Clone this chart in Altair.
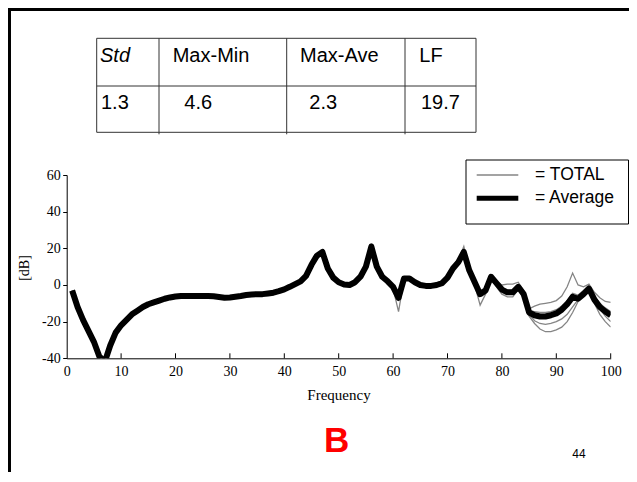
import altair as alt
import pandas as pd

# ---------------- data ----------------
freq = list(range(1, 101))

average = [
    -3, -12, -19, -25, -31, -39, -42, -33, -26, -22,
    -19, -16, -14, -12, -10.5, -9.5, -8.5, -7.5, -6.8, -6.3,
    -6, -6, -6, -6, -6, -6, -6.2, -6.6, -7, -6.8,
    -6.4, -6, -5.5, -5.2, -5, -5, -4.6, -4.2, -3.4, -2.4,
    -1, 0.5, 2, 5, 11, 16, 18, 9, 4, 1.5,
    0.3, 0, 1.5, 4.5, 10, 21, 10, 4.5, 2, -1,
    -7, 3.5, 3.5, 1.5, 0, -0.5, -0.5, 0, 1, 4,
    9, 12.5, 18, 8, 1.5, -5, -3, 4.5, 1, -2.5,
    -4, -4, -1, -5, -15, -16.5, -17.2, -17.2, -16.5, -15.5,
    -13.5, -10.5, -6.5, -7.5, -5, -2, -8, -12, -14.5, -16.5,
]

total_1 = [
    -3, -12, -19, -25, -31, -39, -42, -33, -26, -22,
    -19, -16, -14, -12, -10.5, -9.5, -8.5, -7.5, -6.8, -6.3,
    -6, -6, -6, -6, -6, -6, -6.2, -6.6, -7, -6.8,
    -6.4, -6, -5.5, -5.2, -5, -5, -4.6, -4.2, -3.4, -2.4,
    -0.5, 1, 2.5, 5.5, 11.5, 16.5, 19, 9.5, 4.5, 2,
    0.8, 0.5, 2, 5, 10.5, 22.5, 10.5, 5, 2.5, -0.5,
    -6, 4, 4, 2, 0.5, 0, 0, 0.5, 1.5, 4.5,
    9.5, 13.5, 21, 9, 2.5, -3, -1.5, 5.5, 2, 0,
    0.5, 0.5, 1.5, -3, -13, -11.5, -10.5, -10, -9.5, -8.5,
    -6, -1, 6.5, 0, -1, 0.5, -4, -7, -9, -9.5,
]

total_2 = [
    -3, -12, -19, -25, -31, -39, -42, -33, -26, -22,
    -19, -16, -14, -12, -10.5, -9.5, -8.5, -7.5, -6.8, -6.3,
    -6, -6, -6, -6, -6, -6, -6.2, -6.6, -7, -6.8,
    -6.4, -6, -5.5, -5.2, -5, -5, -4.6, -4.2, -3.4, -2.4,
    -1.5, 0, 1.5, 4.5, 10.5, 15.5, 17, 8.5, 3.5, 1,
    0, -0.5, 1, 4, 9.5, 20, 9.5, 4, 1.5, -2,
    -14.5, 3, 3, 1, -0.5, -1, -1, -0.5, 0.5, 3.5,
    8.5, 12, 17, 7, 0, -11, -5, 3.5, -1, -5,
    -6.5, -6.5, -2.5, -7, -17, -21, -24, -25.5, -25.5, -24.5,
    -23, -20, -15, -9, -4, -2.5, -10, -16, -20, -23,
]

total_3 = [
    -3, -12, -19, -25, -31, -39, -42, -33, -26, -22,
    -19, -16, -14, -12, -10.5, -9.5, -8.5, -7.5, -6.8, -6.3,
    -6, -6, -6, -6, -6, -6, -6.2, -6.6, -7, -6.8,
    -6.4, -6, -5.5, -5.2, -5, -5, -4.6, -4.2, -3.4, -2.4,
    -1, 0.5, 2, 5, 11, 16, 18, 9, 4, 1.5,
    0.3, 0, 1.5, 4.5, 10, 21, 10, 4.5, 2, -1,
    -8, 3.5, 3.5, 1.5, 0, -0.5, -0.5, 0, 1, 4,
    9, 12.5, 18.5, 8, 1.5, -6, -3.5, 4, 0.5, -3.5,
    -5, -5, -1.5, -6, -16, -19.5, -21, -21.5, -21, -20,
    -18.5, -16, -12, -8, -4.5, -1, -8, -13, -17, -20,
]

total_4 = [
    -3, -12, -19, -25, -31, -39, -42, -33, -26, -22,
    -19, -16, -14, -12, -10.5, -9.5, -8.5, -7.5, -6.8, -6.3,
    -6, -6, -6, -6, -6, -6, -6.2, -6.6, -7, -6.8,
    -6.4, -6, -5.5, -5.2, -5, -5, -4.6, -4.2, -3.4, -2.4,
    -1, 0.5, 2, 5, 11, 16, 18, 9, 4, 1.5,
    0.3, 0, 1.5, 4.5, 10, 21, 10, 4.5, 2, -1,
    -7, 3.5, 3.5, 1.5, 0, -0.5, -0.5, 0, 1, 4,
    9, 12.5, 18, 8, 1.5, -4, -2.5, 4.5, 1, -2,
    -3, -3, 0, -4, -14, -14.5, -15, -15, -14.5, -13.5,
    -11.5, -8.5, -4.5, -5.5, -3, 0, -6, -10, -12.5, -14.5,
]

x_ticks = [0, 10, 20, 30, 40, 50, 60, 70, 80, 90, 100]
y_ticks = [-40, -20, 0, 20, 40, 60]

table_headers = ["Std", "Max-Min", "Max-Ave", "LF"]
table_values = ["1.3", "4.6", "2.3", "19.7"]

legend_labels = ["= TOTAL", "= Average"]
x_title = "Frequency"
y_title = "[dB]"
panel_letter = "B"
page_number = "44"

# ---------------- layout ----------------
OX, OY = 66.7, 175.0          # page position of plot origin
W, H = 544.0, 183.3           # plot area
SVG_W, SVG_H = 621.0, 464.0
PAD_L, PAD_T = OX - 8, OY - 8

def px(x):
    return x - OX

def py(y):
    return y - OY

xs = alt.Scale(domain=[0, 100], nice=False)
ys = alt.Scale(domain=[-40, 60], nice=False)

x_axis = alt.Axis(values=x_ticks, ticks=False, labelPadding=6, labelFlush=False,
                  labelOverlap=False,
                  labelFont="Liberation Serif", labelFontSize=14, labelColor="black",
                  domainColor="black", domainWidth=1, grid=False, title=None)
y_axis = alt.Axis(values=y_ticks, tickCount=6, tickSize=4, tickColor="black", labelPadding=2.5,
                  labelOverlap=False, labelExpr="'' + datum.value",
                  labelFont="Liberation Serif", labelFontSize=14, labelColor="black",
                  domainColor="black", domainWidth=1, grid=False, title=None)

rows = []
for i, s in enumerate([total_1, total_2, total_3, total_4]):
    for f, v in zip(freq, s):
        rows.append({"freq": f, "value": v, "series": f"TOTAL {i+1}"})
gray_df = pd.DataFrame(rows)
avg_df = pd.DataFrame({"freq": freq, "value": average})

gray = alt.Chart(gray_df).mark_line(color="#858585", strokeWidth=1.3, clip=True).encode(
    x=alt.X("freq:Q", scale=xs, axis=x_axis),
    y=alt.Y("value:Q", scale=ys, axis=y_axis),
    detail="series:N",
)

avg_line = alt.Chart(avg_df).mark_line(color="black", strokeWidth=6, strokeJoin="round",
                                       clip=True).encode(
    x=alt.X("freq:Q", scale=xs, axis=x_axis),
    y=alt.Y("value:Q", scale=ys, axis=y_axis),
)

xtick_rules = alt.Chart(pd.DataFrame({"t": x_ticks[1:]})).mark_rule(
    color="black", strokeWidth=1).encode(
    x=alt.X("t:Q", scale=xs, axis=x_axis),
    y=alt.value(H),
    y2=alt.value(H - 5),
)

data_layer = alt.layer(gray, avg_line, xtick_rules)

# ---------------- decorations ----------------
segs = []
def seg(x1, y1, x2, y2, c="#333333", w=1.0):
    segs.append({"x1": px(x1), "y1": py(y1), "x2": px(x2), "y2": py(y2), "c": c, "w": w})

# page frame
seg(8, 9.5, 629, 9.5, "black", 3)
seg(9.5, 8, 9.5, 472, "black", 3)
# table
t_l, t_r, t_t, t_m, t_b = 96.7, 476, 38.3, 86, 132.3
seg(t_l, t_t, t_r, t_t)
seg(t_l, t_m, t_r, t_m)
seg(t_l, t_b, t_r, t_b)
seg(t_l, t_t, t_l, t_b)
seg(t_r, t_t, t_r, t_b)
for cx in [159, 286.7, 405]:
    seg(cx, t_t, cx, t_b + 2)
# legend box
seg(466, 160, 628.5, 160, "black", 1)
seg(466, 224, 628.5, 224, "black", 1)
seg(466, 160, 466, 224, "black", 1)
seg(628.5, 160, 628.5, 224, "black", 1)
seg(476.7, 175, 518.3, 175, "#858585", 1.3)
seg(476.7, 198.3, 518.3, 198.3, "black", 5)

seg_df = pd.DataFrame(segs)
lines = alt.Chart(seg_df).mark_rule().encode(
    x=alt.X("x1:Q", scale=None, axis=None), x2="x2:Q",
    y=alt.Y("y1:Q", scale=None, axis=None), y2="y2:Q",
    color=alt.Color("c:N", scale=None),
    strokeWidth=alt.StrokeWidth("w:Q", scale=None),
)

hdr_x = [100, 172.7, 300, 419.3]
val_x = [101, 184.3, 309.3, 421]
tab_df = pd.DataFrame(
    [{"x": px(hdr_x[i]), "y": py(55.7), "t": h} for i, h in enumerate(table_headers) if i > 0]
    + [{"x": px(val_x[i]), "y": py(103.3), "t": v} for i, v in enumerate(table_values)]
)
tab_text = alt.Chart(tab_df).mark_text(align="left", baseline="middle", font="Liberation Sans",
                                       fontSize=20, color="black").encode(
    x=alt.X("x:Q", scale=None, axis=None), y=alt.Y("y:Q", scale=None, axis=None), text="t:N")

one = pd.DataFrame({"k": [0]})

def label(txt, x, y, **kw):
    return alt.Chart(one).mark_text(text=txt, **kw).encode(
        x=alt.value(px(x)), y=alt.value(py(y)))

std_text = label(table_headers[0], hdr_x[0], 55.7, align="left", baseline="middle",
                 font="Liberation Sans", fontSize=20, fontStyle="italic", color="black")
leg1 = label(legend_labels[0], 535, 175, align="left", baseline="middle",
             font="Liberation Sans", fontSize=17.5, color="black")
leg2 = label(legend_labels[1], 535, 198.3, align="left", baseline="middle",
             font="Liberation Sans", fontSize=17.5, color="black")
xt = label(x_title, 339, 395, align="center", baseline="middle",
           font="Liberation Serif", fontSize=15, color="black")
yt = label(y_title, 25, 268, align="center", baseline="middle", angle=270,
           font="Liberation Serif", fontSize=14, color="black")
bl = label(panel_letter, 336.7, 451.7, align="center", baseline="alphabetic",
           font="Liberation Sans", fontSize=35, fontWeight="bold", color="#ff0000")
pn = label(page_number, 579, 458.3, align="center", baseline="alphabetic",
           font="Liberation Sans", fontSize=12, color="black")

chart = alt.layer(
    data_layer, lines, tab_text, std_text, leg1, leg2, xt, yt, bl, pn
).resolve_scale(
    x="independent", y="independent"
).properties(
    width=W, height=H,
    padding={"left": PAD_L, "top": PAD_T,
             "right": SVG_W - PAD_L - W, "bottom": SVG_H - PAD_T - H},
    autosize=alt.AutoSizeParams(type="none"),
    background="white",
).configure_view(stroke=None)

chart.save("out.html", embed_options={"renderer": "svg", "actions": False})
